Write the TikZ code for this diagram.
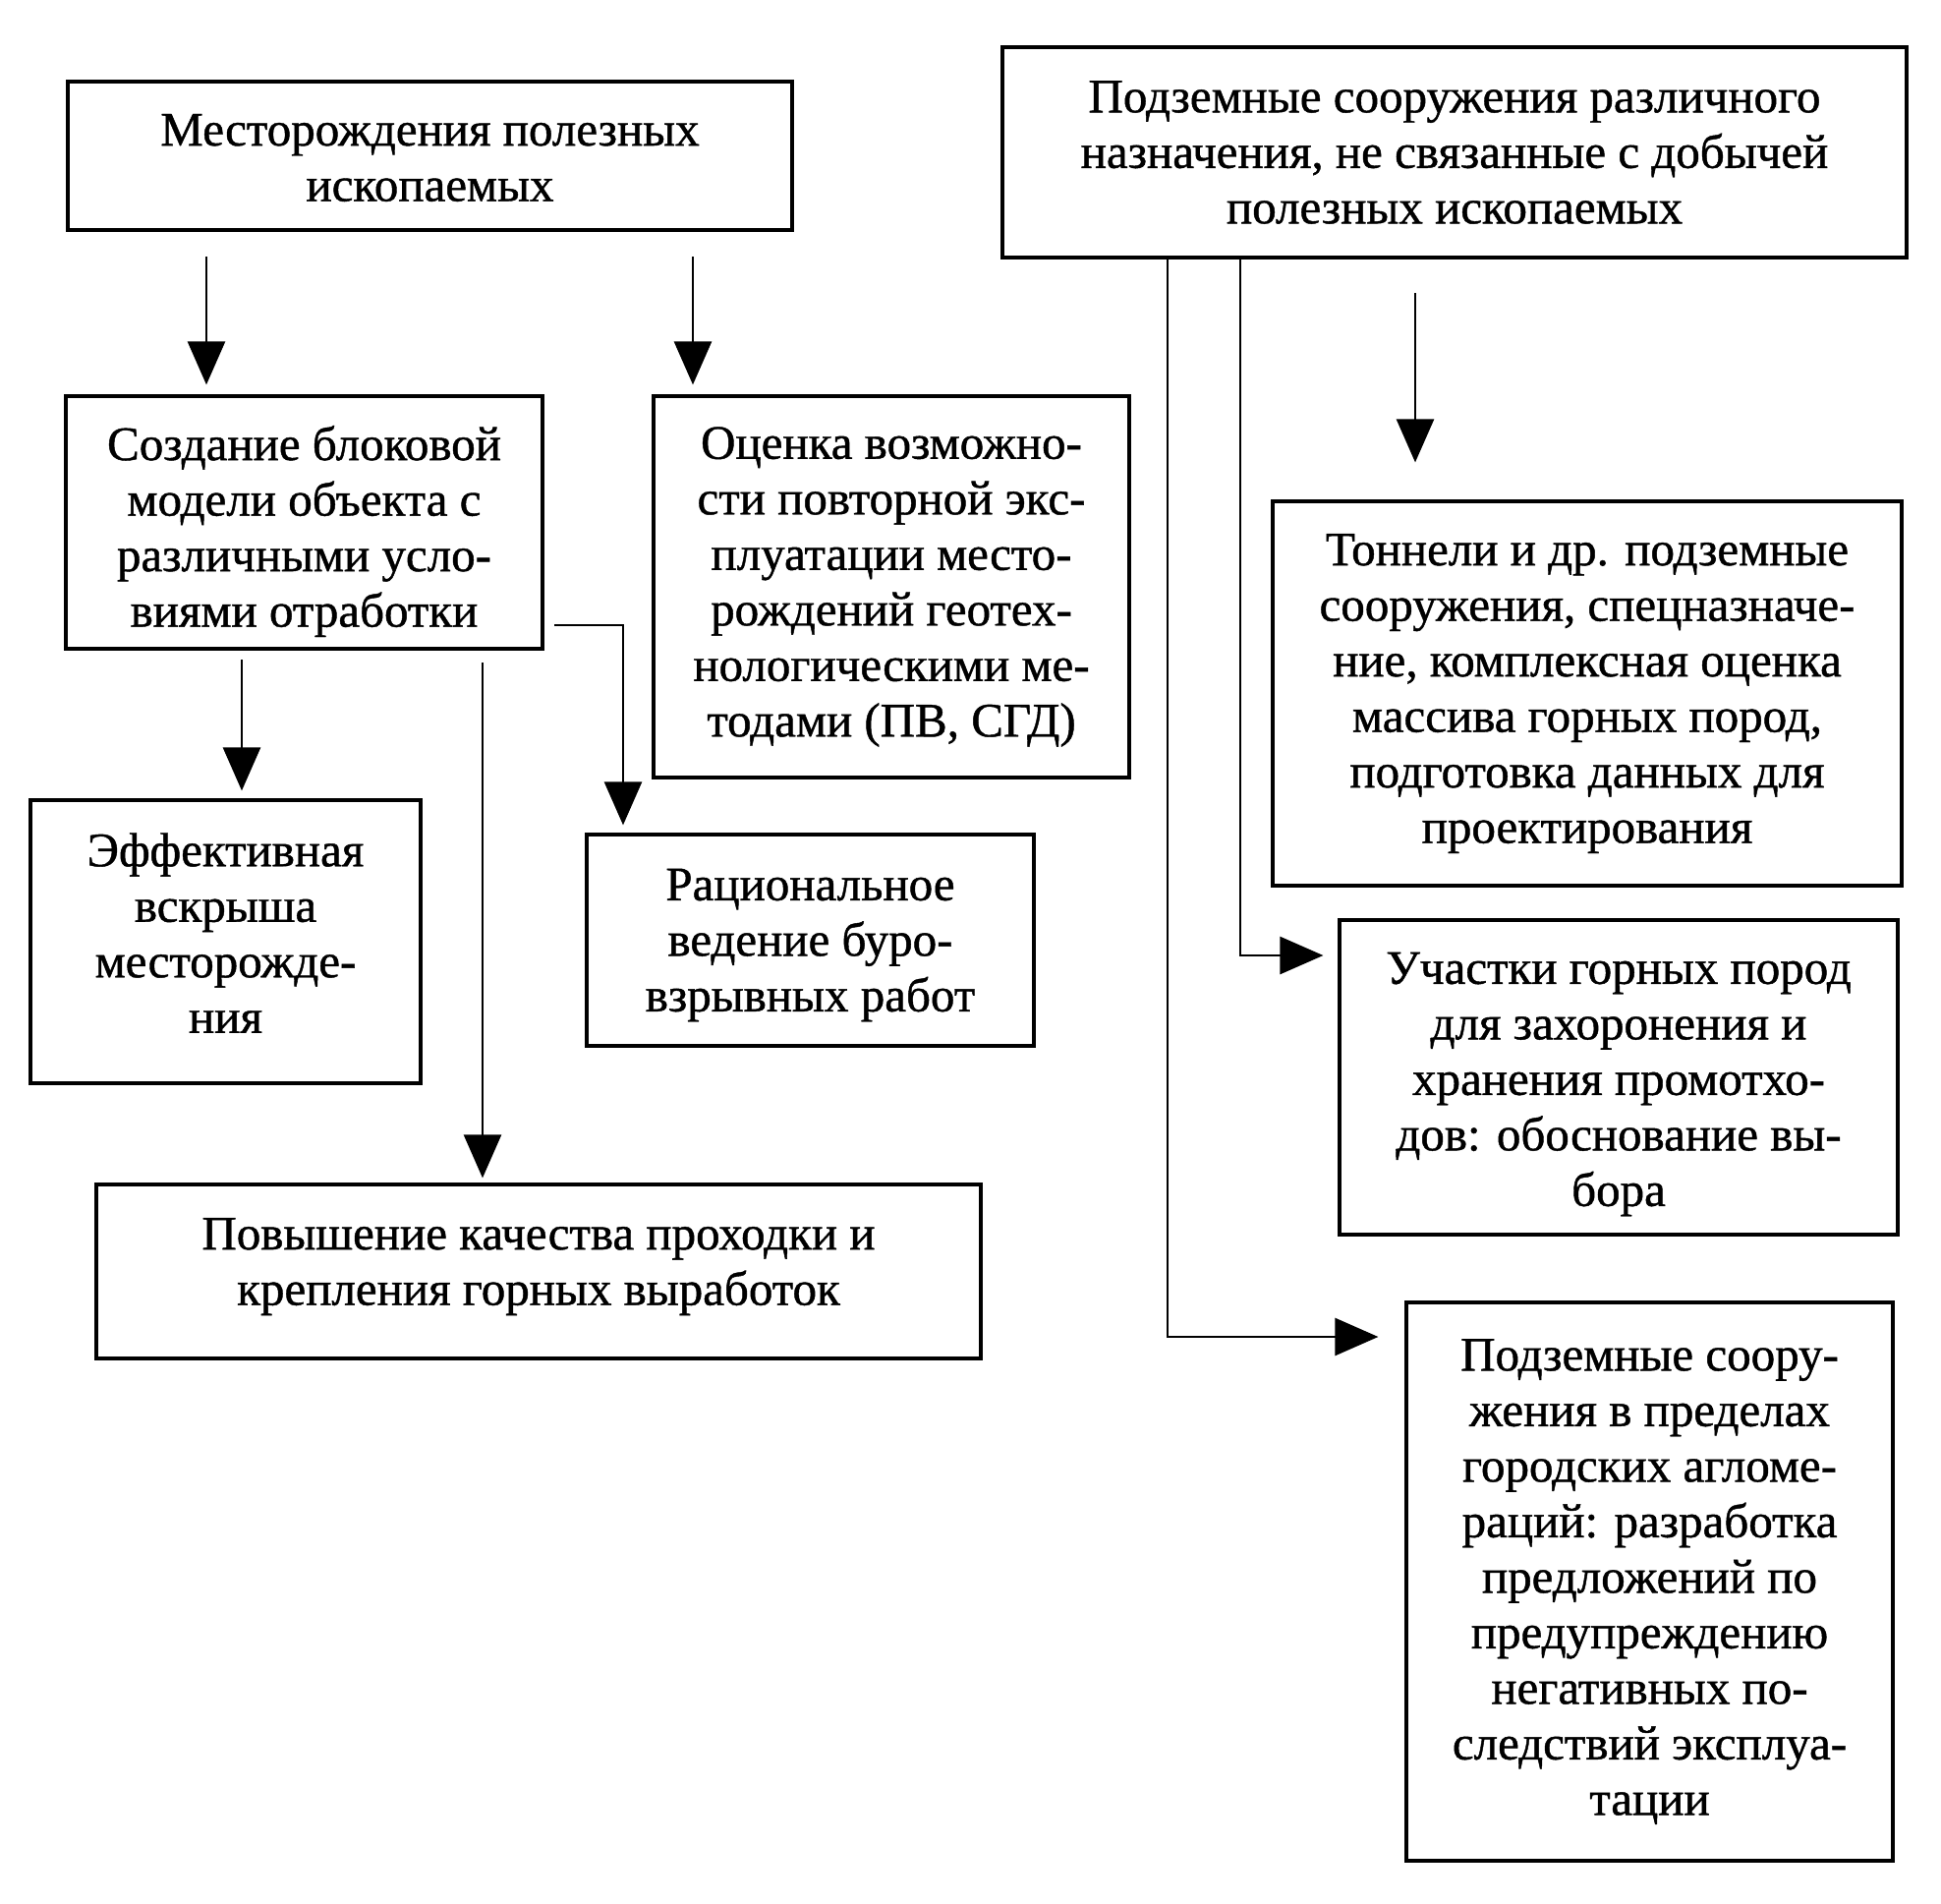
\documentclass[tikz,border=0pt]{standalone}
\usepackage{fontspec}
\setmainfont{Liberation Serif}
\newfontfamily\thickserif[FakeBold=0.9]{Liberation Serif}
\usetikzlibrary{arrows.meta}
\begin{document}
\begin{tikzpicture}[x=1pt,y=-1pt,
  box/.style={draw, line width=3.2pt, rectangle, inner sep=0pt},
  txt/.style={align=center, inner sep=0pt, font=\thickserif\fontsize{49}{56.5}\selectfont},
  arr/.style={line width=2.6pt, -{Triangle[width=38pt,length=44pt]}}]
\useasboundingbox (0,0) rectangle (1975,1937);
\node[box, minimum width=737pt, minimum height=151pt] (b1) at (437.5,158.5) {};
\node[txt] (t1) at ([yshift=-2pt]b1.center) {Месторождения полезных\\ископаемых};
\node[box, minimum width=920pt, minimum height=214pt] (b2) at (1480,155) {};
\node[txt] (t2) at (b2.center) {Подземные сооружения различного\\назначения, не связанные с добычей\\полезных ископаемых};
\node[box, minimum width=485pt, minimum height=257pt] (b3) at (309.5,531.5) {};
\node[txt] (t3) at ([yshift=-9pt]b3.center) {Создание блоковой\\модели объекта с\\различными усло-\\виями отработки};
\node[box, minimum width=484pt, minimum height=388pt] (b4) at (907,597) {};
\node[txt] (t4) at (b4.center) {Оценка возможно-\\сти повторной экс-\\плуатации место-\\рождений геотех-\\нологическими ме-\\тодами (ПВ, СГД)};
\node[box, minimum width=397pt, minimum height=288pt] (b5) at (229.5,958) {};
\node[txt] (t5) at ([yshift=9pt]b5.center) {Эффективная\\вскрыша\\месторожде-\\ния};
\node[box, minimum width=455pt, minimum height=215pt] (b6) at (824.5,956.5) {};
\node[txt] (t6) at ([yshift=-5pt]b6.center) {Рациональное\\ведение буро-\\взрывных работ};
\node[box, minimum width=900pt, minimum height=177pt] (b7) at (548,1293.5) {};
\node[txt] (t7) at ([yshift=5pt]b7.center) {Повышение качества проходки и\\крепления горных выработок};
\node[box, minimum width=640pt, minimum height=391pt] (b8) at (1615,705.5) {};
\node[txt] (t8) at (b8.center) {Тоннели и др. подземные\\сооружения, спецназначе-\\ние, комплексная оценка\\массива горных пород,\\подготовка данных для\\проектирования};
\node[box, minimum width=568pt, minimum height=320pt] (b9) at (1647,1096) {};
\node[txt] (t9) at ([yshift=-7pt]b9.center) {Участки горных пород\\для захоронения и\\хранения промотхо-\\дов: обоснование вы-\\бора};
\node[box, minimum width=495pt, minimum height=568pt] (b10) at (1678.5,1609) {};
\node[txt] (t10) at (b10.center) {Подземные соору-\\жения в пределах\\городских агломе-\\раций: разработка\\предложений по\\предупреждению\\негативных по-\\следствий эксплуа-\\тации};
% free starts
\coordinate (s1) at (210,261);
\coordinate (s2) at (705,261);
\coordinate (s3) at (246,671);
\coordinate (s4) at (491,674);
\coordinate (s5) at (564,636);
\coordinate (s6) at (1440,298);
\coordinate (c7) at (1262,972);
\coordinate (c8) at (1188,1360);
% arrows
\draw[arr, shorten >=10pt] (s1) -- (s1 |- b3.north);
\draw[arr, shorten >=10pt] (s2) -- (s2 |- b4.north);
\draw[arr, shorten >=8pt] (s3) -- (s3 |- b5.north);
\draw[arr, shorten >=5pt] (s4) -- (s4 |- b7.north);
\draw[arr, shorten >=8pt] (s5) -| (634,0 |- b6.north);
\draw[arr, shorten >=38pt] (s6) -- (s6 |- b8.north);
\draw[arr, shorten >=15pt] (c7 |- b2.south) -- (c7) -- (c7 -| b9.west);
\draw[arr, shorten >=27pt] (c8 |- b2.south) -- (c8) -- (c8 -| b10.west);
\end{tikzpicture}
\end{document}
